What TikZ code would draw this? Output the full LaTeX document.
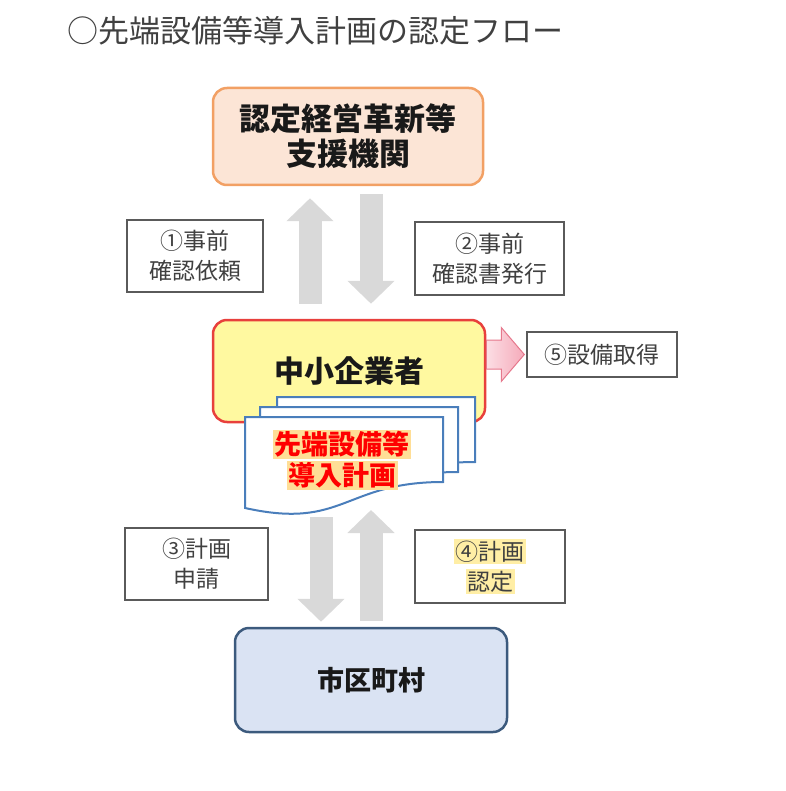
\documentclass[tikz,border=0pt]{standalone}
\usepackage{fontspec}
\setmainfont{Noto Sans CJK JP}
\usetikzlibrary{arrows.meta,calc}

\definecolor{orgfill}{RGB}{252,229,214}
\definecolor{orgline}{RGB}{242,160,100}
\definecolor{smefill}{RGB}{255,249,160}
\definecolor{smeline}{RGB}{232,64,60}
\definecolor{cityfill}{RGB}{218,227,243}
\definecolor{cityline}{RGB}{60,90,125}
\definecolor{docline}{RGB}{74,126,187}
\definecolor{arrowgray}{RGB}{217,217,217}
\definecolor{pinklight}{RGB}{252,222,228}
\definecolor{pinkdeep}{RGB}{245,170,186}
\definecolor{pinkline}{RGB}{230,120,140}
\definecolor{glowy}{RGB}{255,238,165}
\definecolor{glowo}{RGB}{255,222,150}
\definecolor{txtgray}{RGB}{64,64,64}
\definecolor{boxgray}{RGB}{90,90,90}

\tikzset{
  mainbox/.style={rounded corners=14pt, line width=2.5pt, align=center, text=black!90},
  lblbox/.style={draw=boxgray, line width=1.4pt, align=center, text=txtgray, font=\fontsize{23}{30}\selectfont},
  grayarrow/.style={draw=arrowgray, line width=23pt, -{Triangle[width=46pt,length=23pt]}},
  pinkarrow/.style={draw=pinkline, line width=1pt, left color=pinklight, right color=pinkdeep},
  sheet/.style={draw=docline, line width=2pt, fill=white},
}
\newcommand{\glow}[2][glowy]{{\setlength{\fboxsep}{1.5pt}\colorbox{#1}{#2}}}

\begin{document}
\begin{tikzpicture}[x=1pt, y=-1pt]
\useasboundingbox (0,0) rectangle (785,791);
\node[anchor=west, inner sep=0pt, text=txtgray, font=\fontsize{31}{36}\selectfont] (title) at (67,31) {○先端設備等導入計画の認定フロー};
% boxes
\node[mainbox, draw=orgline, fill=orgfill, minimum width=270pt, minimum height=97pt, font=\fontsize{31}{35}\selectfont\bfseries] (org) at (348,136.5) {認定経営革新等\\支援機関};
\node[mainbox, draw=smeline, fill=smefill, minimum width=272pt, minimum height=102pt, font=\fontsize{30}{35}\selectfont\bfseries] (sme) at (349,371) {中小企業者};
% plan sheets
\foreach \dx/\dy in {32/-20, 15/-10, 0/0}
  \draw[sheet] (245+\dx,417+\dy) -- ++(198,0) -- ++(0,65) .. controls +(-99,0) and +(99,22) .. ++(-198,26) -- cycle;
\node[align=center, text=red, inner sep=0pt, font=\fontsize{27}{31}\selectfont\bfseries] (plan) at (342,460) {\glow[glowo]{先端設備等}\\\glow[glowo]{導入計画}};
\coordinate (planfoot) at (371,510);
\node[mainbox, draw=cityline, fill=cityfill, minimum width=272pt, minimum height=104pt, font=\fontsize{27}{32}\selectfont\bfseries] (city) at (371,680) {市区町村};
% labels
\node[lblbox, minimum width=136pt, minimum height=72pt] (ask) at (195,256) {①事前\\確認依頼};
\node[lblbox, minimum width=149pt, minimum height=73pt] (issue) at (489.5,258.5) {②事前\\確認書発行};
\node[lblbox, minimum width=143pt, minimum height=72pt] (apply) at (196.5,564) {③計画\\申請};
\node[lblbox, minimum width=150pt, minimum height=73pt] (grant) at (490,566.5) {\glow{④計画}\\\glow{認定}};
\node[lblbox, minimum width=150pt, minimum height=45pt] (acq) at (602,354.5) {⑤設備取得};
% arrows
\draw[grayarrow] ([xshift=-39pt,yshift=15pt]sme.north) -- ([xshift=-38pt,yshift=-12pt]org.south);
\draw[grayarrow] ([xshift=23pt,yshift=-8pt]org.south) -- ([xshift=22pt,yshift=15pt]sme.north);
\draw[grayarrow] ([xshift=-50pt,yshift=-7pt]planfoot) -- ([xshift=-50pt,yshift=5pt]city.north);
\draw[grayarrow] ([yshift=6pt]city.north) -- (planfoot);
\draw[pinkarrow] (sme.east |- acq.west) ++(0,-14.5) -- ++(15,0) -- ++(0,-12.5) -- ([xshift=-2pt]acq.west)
  -- ($(sme.east |- acq.west)+(15,27)$) -- ++(0,-12.5) -- ++(-15,0) -- cycle;
\end{tikzpicture}
\end{document}
